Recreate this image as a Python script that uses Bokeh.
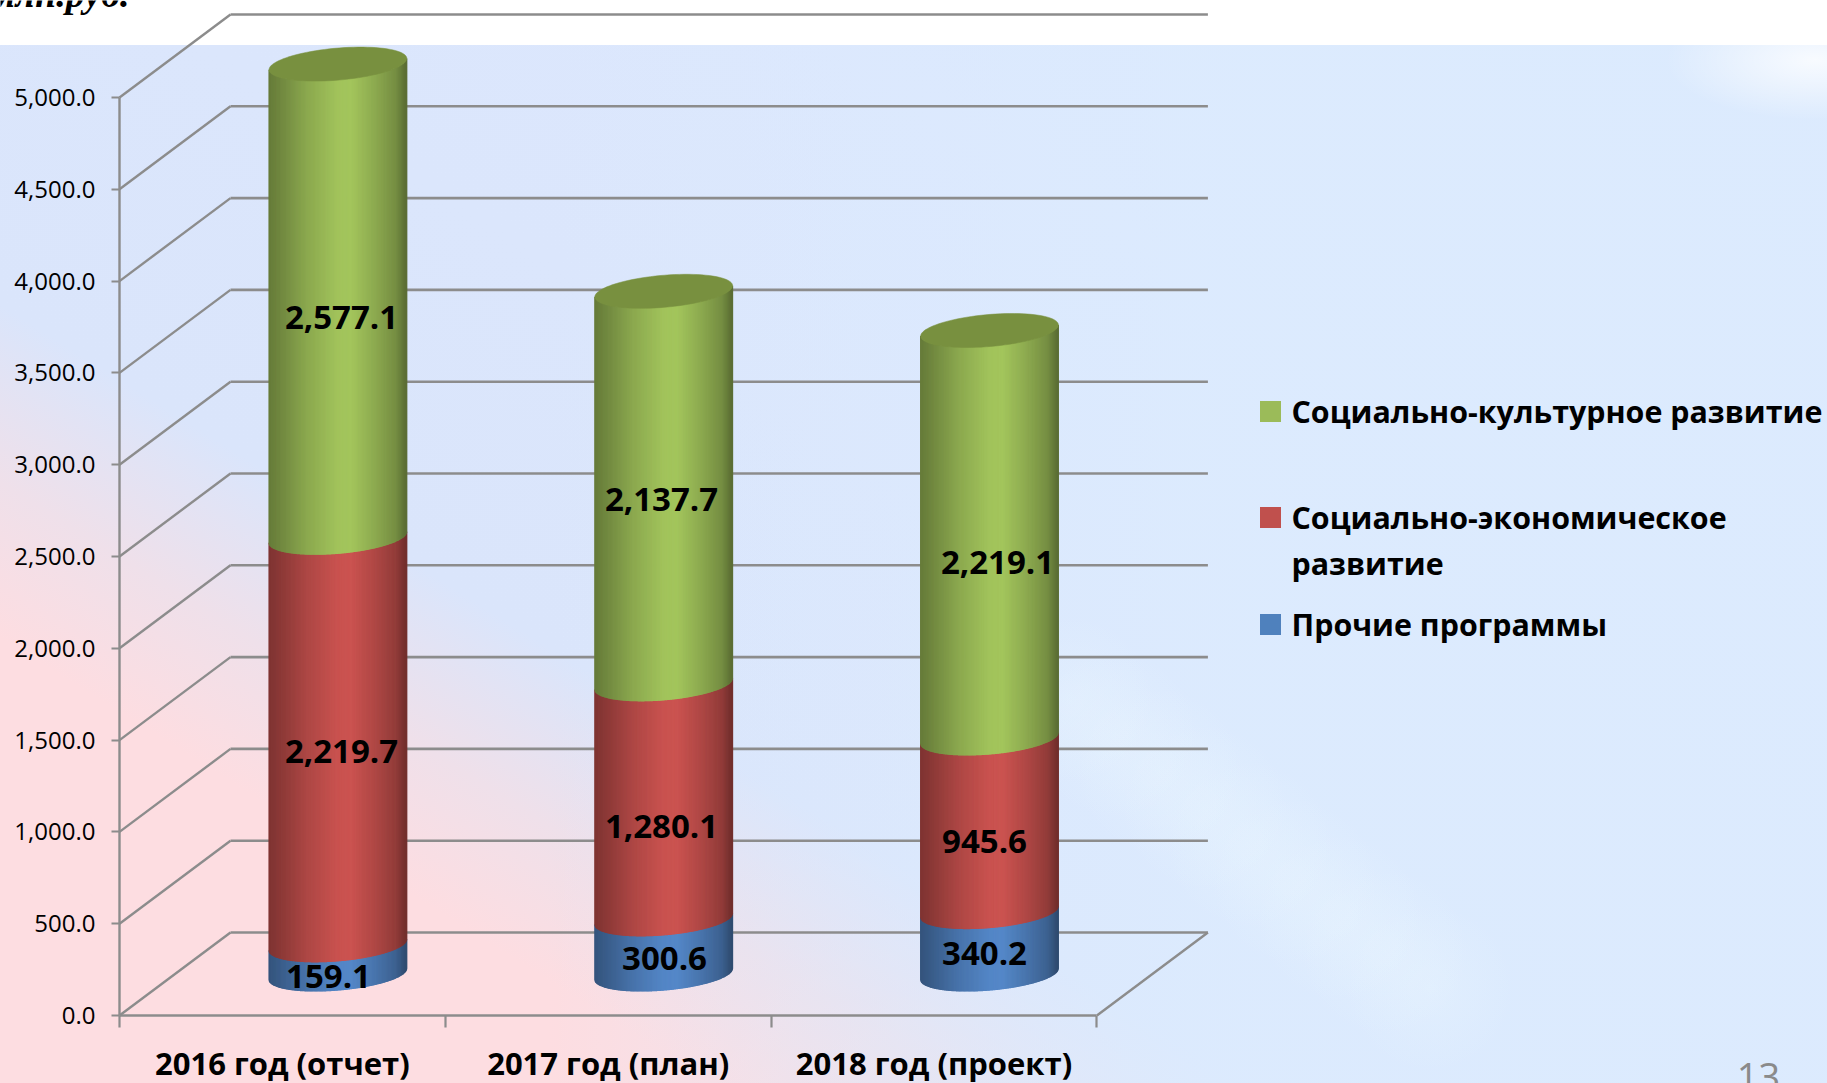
from bokeh.plotting import figure
from bokeh.embed import file_html
from bokeh.resources import INLINE
from bokeh.models import FixedTicker, NumeralTickFormatter
from bokeh.core.properties import value
import numpy as np

categories = ["2016 год (отчет)", "2017 год (план)", "2018 год (проект)"]
other = [159.1, 300.6, 340.2]
economic = [2219.7, 1280.1, 945.6]
cultural = [2577.1, 2137.7, 2219.1]
series_names = ["Социально-культурное развитие", "Социально-экономическое\nразвитие", "Прочие программы"]
y_ticks = [0, 500, 1000, 1500, 2000, 2500, 3000, 3500, 4000, 4500, 5000]

W, H = 1827, 1083
X0, Y0 = 119, 1015          # pixel of chart origin
PX_CAT = 325.8              # pixels per category
PX_VAL = 918 / 5000         # pixels per value unit
DEPTH_X, DEPTH_Y = 111, 83  # pixels of 3D depth

x_to_data = lambda px: (px - X0) / PX_CAT
y_to_data = lambda py: (Y0 - py) / PX_VAL
DX = DEPTH_X / PX_CAT
DY = DEPTH_Y / PX_VAL

streak = ",".join(f"radial-gradient(circle 85px at {x}px {y}px, rgba(236,247,255,.3), rgba(236,247,255,0))"
                  for x, y in [(1070, 700), (1115, 735), (1160, 772), (1205, 808), (1250, 845),
                               (1295, 882), (1340, 918), (1385, 952), (1430, 988)])
bg = ("linear-gradient(to bottom, #ffffff 45px, rgba(255,255,255,0) 45px),"
      "radial-gradient(ellipse 150px 60px at 1815px 60px, rgba(255,255,255,.8), rgba(255,255,255,0)),"
      + streak + ","
      "linear-gradient(90deg, rgba(220,235,254,0) 30%, rgba(220,235,254,.9) 68%),"
      "linear-gradient(212deg, #dae5fc 0%, #dce7fd 30%, #dae5fb 65%, #efe0ea 73%, #fddde1 80%, #fddde1 100%)")

# the frame fills the whole canvas, so nothing is clipped; the axes sit inside it
p = figure(width=W, height=H, output_backend="svg", toolbar_location=None,
           x_range=(x_to_data(0), x_to_data(W)), y_range=(y_to_data(H), y_to_data(0)),
           min_border=0,
           outline_line_color=None, background_fill_alpha=0, border_fill_alpha=0,
           styles={"background": bg})
p.grid.visible = False

AXIS = "#8c8c8c"
# 3D walls
vals = np.array(y_ticks, dtype=float)
p.multi_line([[DX, 3 + DX] for _ in vals], [[v + DY, v + DY] for v in vals],
             line_color=AXIS, line_width=2.6)
p.multi_line([[0, DX] for _ in vals], [[v, v + DY] for v in vals], line_color=AXIS, line_width=2.4)
p.line([3, 3 + DX], [0, DY], line_color=AXIS, line_width=2.4)

# axes
ya = p.yaxis[0]
ya.fixed_location = 0
ya.ticker = FixedTicker(ticks=y_ticks)
ya.formatter = NumeralTickFormatter(format="0,0.0")
ya.bounds = (0, 5000)
ya.axis_line_color = AXIS; ya.axis_line_width = 2.4
ya.major_tick_line_color = AXIS; ya.major_tick_line_width = 2.2
ya.major_tick_out = 8; ya.major_tick_in = 0
ya.minor_tick_line_color = None
ya.major_label_text_font = "Open Sans"; ya.major_label_text_font_size = "24px"
ya.major_label_text_color = "#000000"; ya.major_label_standoff = 16

xa = p.xaxis[0]
xa.fixed_location = 0
xa.ticker = FixedTicker(ticks=[0.5, 1.5, 2.5], minor_ticks=[0, 1, 2, 3])
xa.major_label_overrides = {0.5: categories[0], 1.5: categories[1], 2.5: categories[2]}
xa.bounds = (0, 3)
xa.axis_line_color = AXIS; xa.axis_line_width = 2.6
xa.major_tick_line_color = None
xa.minor_tick_line_color = AXIS; xa.minor_tick_line_width = 2.2
xa.minor_tick_out = 12; xa.minor_tick_in = 0
xa.major_label_text_font = "Open Sans"; xa.major_label_text_font_style = "bold"
xa.major_label_text_font_size = "31px"; xa.major_label_text_color = "#000000"
xa.major_label_standoff = 14

# cylinders
R_X = 65 / PX_CAT
D_K = 0.205                  # depth radius as a share of the full depth
PHI = np.arctan2(DEPTH_X * D_K, 65)
N = 110
STOPS_U = [-1.0, -0.75, -0.45, 0.0, 0.2, 0.55, 0.85, 1.0]
STOPS_F = [0.62, 0.72, 0.85, 0.99, 1.0, 0.86, 0.72, 0.55]

def hexcol(c, f):
    return "#%02x%02x%02x" % tuple(int(min(255, round(v * f))) for v in c)

def arc(cx, base, psi):
    th = psi + PHI
    x = cx + R_X * np.cos(th) + DX * D_K * np.sin(th)
    y = base + DY * 0.5 + DY * D_K * np.sin(th)
    return x, y

COL_G = (163, 197, 92); COL_R = (203, 83, 80); COL_B = (84, 135, 200)
for i in range(3):
    cx = i + 0.5 + DX * 0.5
    bottom = 0.0
    for vals_s, col in ((other, COL_B), (economic, COL_R), (cultural, COL_G)):
        v = vals_s[i]; top = bottom + v
        us = np.linspace(-1, 1, N + 1)
        psis = 2 * np.pi - np.arccos(np.clip(us, -1, 1))
        xs, ys, cs = [], [], []
        for k in range(N):
            ps = np.linspace(psis[k], psis[k + 1], 3)
            xb, yb = arc(cx, bottom, ps)
            xt, yt = arc(cx, top, ps)
            xs.append(list(xb) + list(xt[::-1]))
            ys.append(list(yb) + list(yt[::-1]))
            cs.append(hexcol(col, float(np.interp((us[k] + us[k + 1]) / 2, STOPS_U, STOPS_F))))
        p.patches(xs, ys, fill_color=cs, line_color=cs, line_width=1.2)
        bottom = top
    ps = np.linspace(0, 2 * np.pi, 90)
    xe, ye = arc(cx, bottom, ps)
    p.patch(xe, ye, fill_color="#78903f", line_color="#78903f", line_width=0.5)

# data labels (hand-placed in the original chart)
lab_x = [341, 661, 997, 341, 661, 984, 328, 664, 984]
lab_y = [317, 499, 562, 751, 826, 841, 976, 958, 953]
lab_v = cultural + economic + other
p.text([x_to_data(x) for x in lab_x], [y_to_data(y) for y in lab_y],
       text=[f"{v:,.1f}" for v in lab_v], text_align="center", text_baseline="middle",
       text_font=value("Open Sans"), text_font_style="bold", text_font_size="33px", text_color="#000000")

# legend
LX = 1270
for c, py in zip(["#9bbb59", "#c0504d", "#4f81bd"], [411, 517, 624]):
    p.scatter([x_to_data(LX)], [y_to_data(py)], marker="square", size=21, fill_color=c, line_color=None)
sec1, sec2 = series_names[1].split("\n")
for txt, py in [(series_names[0], 411), (sec1, 517), (sec2, 563), (series_names[2], 624)]:
    p.text([x_to_data(1291)], [y_to_data(py)], text=[txt], text_align="left", text_baseline="middle",
           text_font=value("Open Sans"), text_font_style="bold", text_font_size="30.4px", text_color="#000000")

# slide text cut by the picture's edges
p.text([x_to_data(129)], [y_to_data(-7)], text=["млн.руб."], text_align="right", text_baseline="alphabetic",
       text_font=value("Liberation Serif"), text_font_style="bold italic", text_font_size="38px", text_color="#000000")
p.text([x_to_data(1758)], [y_to_data(1076)], text=["13"], text_align="center", text_baseline="alphabetic",
       text_font=value("Open Sans"), text_font_size="38px", text_color="#8a8a8a")

open("out.html", "w").write(file_html(p, INLINE))
